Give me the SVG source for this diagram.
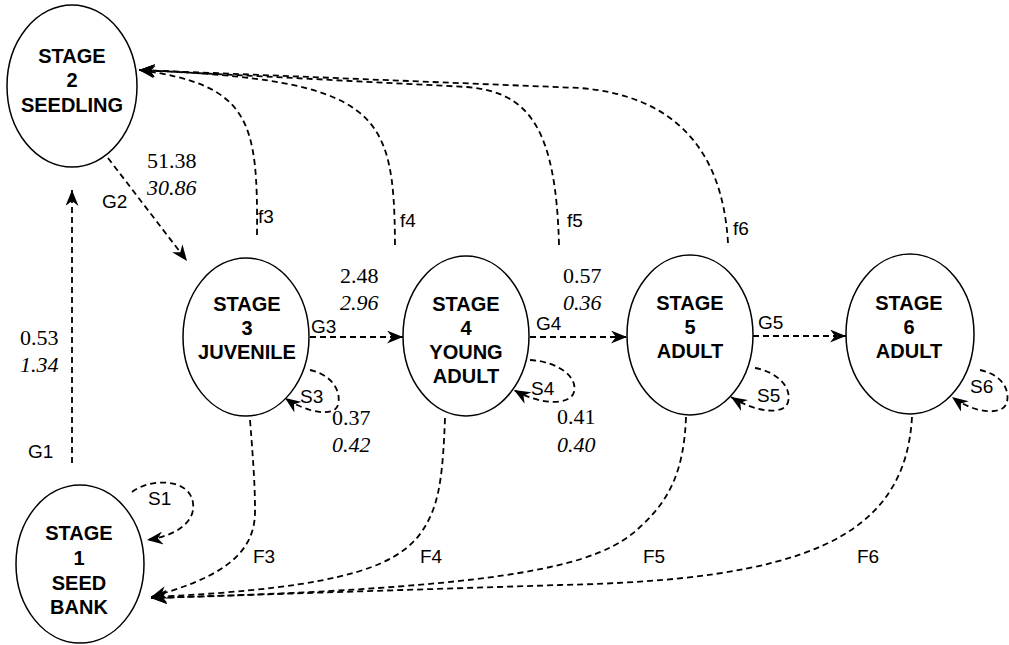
<svg xmlns="http://www.w3.org/2000/svg" width="1009" height="645" viewBox="0 0 1009 645">
<defs>
<marker id="ah" markerUnits="userSpaceOnUse" markerWidth="17" markerHeight="13" refX="16" refY="6.5" orient="auto">
<path d="M0,0 L16,6.5 L0,13 L5,6.5 Z" fill="#000"/>
</marker>
<style>
.st{fill:#fff;stroke:#000;stroke-width:1.5}
.nt{font-family:"Liberation Sans",Arial,sans-serif;font-weight:bold;font-size:20px;text-anchor:middle;fill:#000}
.c{fill:none;stroke:#000;stroke-width:1.8;stroke-dasharray:6 4}
.lb{font-family:"Liberation Sans",Arial,sans-serif;font-size:19px;fill:#000}
.num{font-family:"Liberation Serif","Times New Roman",serif;font-size:22px;fill:#000}
.it{font-style:italic}
</style>
</defs>
<rect width="1009" height="645" fill="#fff"/>
<g id="connectors">
<path class="c" d="M72,463 L72,190" marker-end="url(#ah)"/>
<path class="c" d="M108,158 L187,261" marker-end="url(#ah)"/>
<path class="c" d="M310,337 L403,337" marker-end="url(#ah)"/>
<path class="c" d="M530,337 L627,337" marker-end="url(#ah)"/>
<path class="c" d="M753,336 L846,336" marker-end="url(#ah)"/>
<path class="c" d="M257,235 C258,120 250,85 139,70" marker-end="url(#ah)"/>
<path class="c" d="M395,245 C394,110 380,80 139,70" marker-end="url(#ah)"/>
<path class="c" d="M559,245 C556,130 530,92 467,87 L139,70" marker-end="url(#ah)"/>
<path class="c" d="M728,243 C722,140 665,95 580,88 L139,70" marker-end="url(#ah)"/>
<path class="c" d="M250,420 C254,470 255,490 255,510 C256,560 210,580 151,597" marker-end="url(#ah)"/>
<path class="c" d="M445,418 C443,470 440,500 427,523 C405,565 350,588 151,597" marker-end="url(#ah)"/>
<path class="c" d="M686,417 C684,470 670,500 640,527 C600,565 520,588 151,598" marker-end="url(#ah)"/>
<path class="c" d="M912,417 C905,540 800,580 560,585 L151,598" marker-end="url(#ah)"/>
<path class="c" d="M132,492 C150,478 190,478 193,503 C196,525 170,537 147,540" marker-end="url(#ah)"/>
<path class="c" d="M310,370 C330,374 342,390 338,405 C334,418 305,412 285,398" marker-end="url(#ah)"/>
<path class="c" d="M530,360 C560,362 578,378 574,392 C570,406 540,405 514,390" marker-end="url(#ah)"/>
<path class="c" d="M755,368 C778,372 792,388 788,402 C784,416 755,412 731,397" marker-end="url(#ah)"/>
<path class="c" d="M980,370 C1000,374 1010,388 1007,402 C1004,416 975,414 952,397" marker-end="url(#ah)"/>
</g>
<g id="stage1">
<ellipse class="st" cx="80" cy="564" rx="64" ry="79"/>
<text class="nt" x="79" y="540">STAGE</text>
<text class="nt" x="79" y="565">1</text>
<text class="nt" x="79" y="590">SEED</text>
<text class="nt" x="79" y="614">BANK</text>
</g>
<g id="stage2">
<ellipse class="st" cx="72" cy="86" rx="65" ry="81"/>
<text class="nt" x="72" y="63">STAGE</text>
<text class="nt" x="72" y="87">2</text>
<text class="nt" x="72" y="112">SEEDLING</text>
</g>
<g id="stage3">
<ellipse class="st" cx="246" cy="337" rx="63" ry="79"/>
<text class="nt" x="247" y="311">STAGE</text>
<text class="nt" x="247" y="335">3</text>
<text class="nt" x="247" y="359">JUVENILE</text>
</g>
<g id="stage4">
<ellipse class="st" cx="466" cy="336" rx="63" ry="80"/>
<text class="nt" x="466" y="311">STAGE</text>
<text class="nt" x="466" y="335">4</text>
<text class="nt" x="466" y="359">YOUNG</text>
<text class="nt" x="466" y="383">ADULT</text>
</g>
<g id="stage5">
<ellipse class="st" cx="690" cy="335" rx="63" ry="80"/>
<text class="nt" x="690" y="310">STAGE</text>
<text class="nt" x="690" y="334">5</text>
<text class="nt" x="690" y="358">ADULT</text>
</g>
<g id="stage6">
<ellipse class="st" cx="910" cy="334" rx="64" ry="80"/>
<text class="nt" x="909" y="310">STAGE</text>
<text class="nt" x="909" y="334">6</text>
<text class="nt" x="909" y="358">ADULT</text>
</g>
<g id="labels">
<text class="lb" x="28" y="458">G1</text>
<text class="lb" x="102" y="208">G2</text>
<text class="lb" x="311" y="333">G3</text>
<text class="lb" x="536" y="330">G4</text>
<text class="lb" x="758" y="329">G5</text>
<text class="lb" x="258" y="223">f3</text>
<text class="lb" x="400" y="227">f4</text>
<text class="lb" x="567" y="227">f5</text>
<text class="lb" x="733" y="235">f6</text>
<text class="lb" x="253" y="563">F3</text>
<text class="lb" x="420" y="563">F4</text>
<text class="lb" x="643" y="563">F5</text>
<text class="lb" x="857" y="563">F6</text>
<text class="lb" x="148" y="505">S1</text>
<text class="lb" x="300" y="403">S3</text>
<text class="lb" x="531" y="395">S4</text>
<text class="lb" x="757" y="402">S5</text>
<text class="lb" x="970" y="393">S6</text>
<text class="num" x="147" y="168">51.38</text>
<text class="num it" x="147" y="195">30.86</text>
<text class="num" x="20" y="345">0.53</text>
<text class="num it" x="20" y="372">1.34</text>
<text class="num" x="340" y="283">2.48</text>
<text class="num it" x="340" y="310">2.96</text>
<text class="num" x="563" y="283">0.57</text>
<text class="num it" x="563" y="310">0.36</text>
<text class="num" x="332" y="425">0.37</text>
<text class="num it" x="332" y="452">0.42</text>
<text class="num" x="557" y="424">0.41</text>
<text class="num it" x="557" y="452">0.40</text>
</g>
</svg>
